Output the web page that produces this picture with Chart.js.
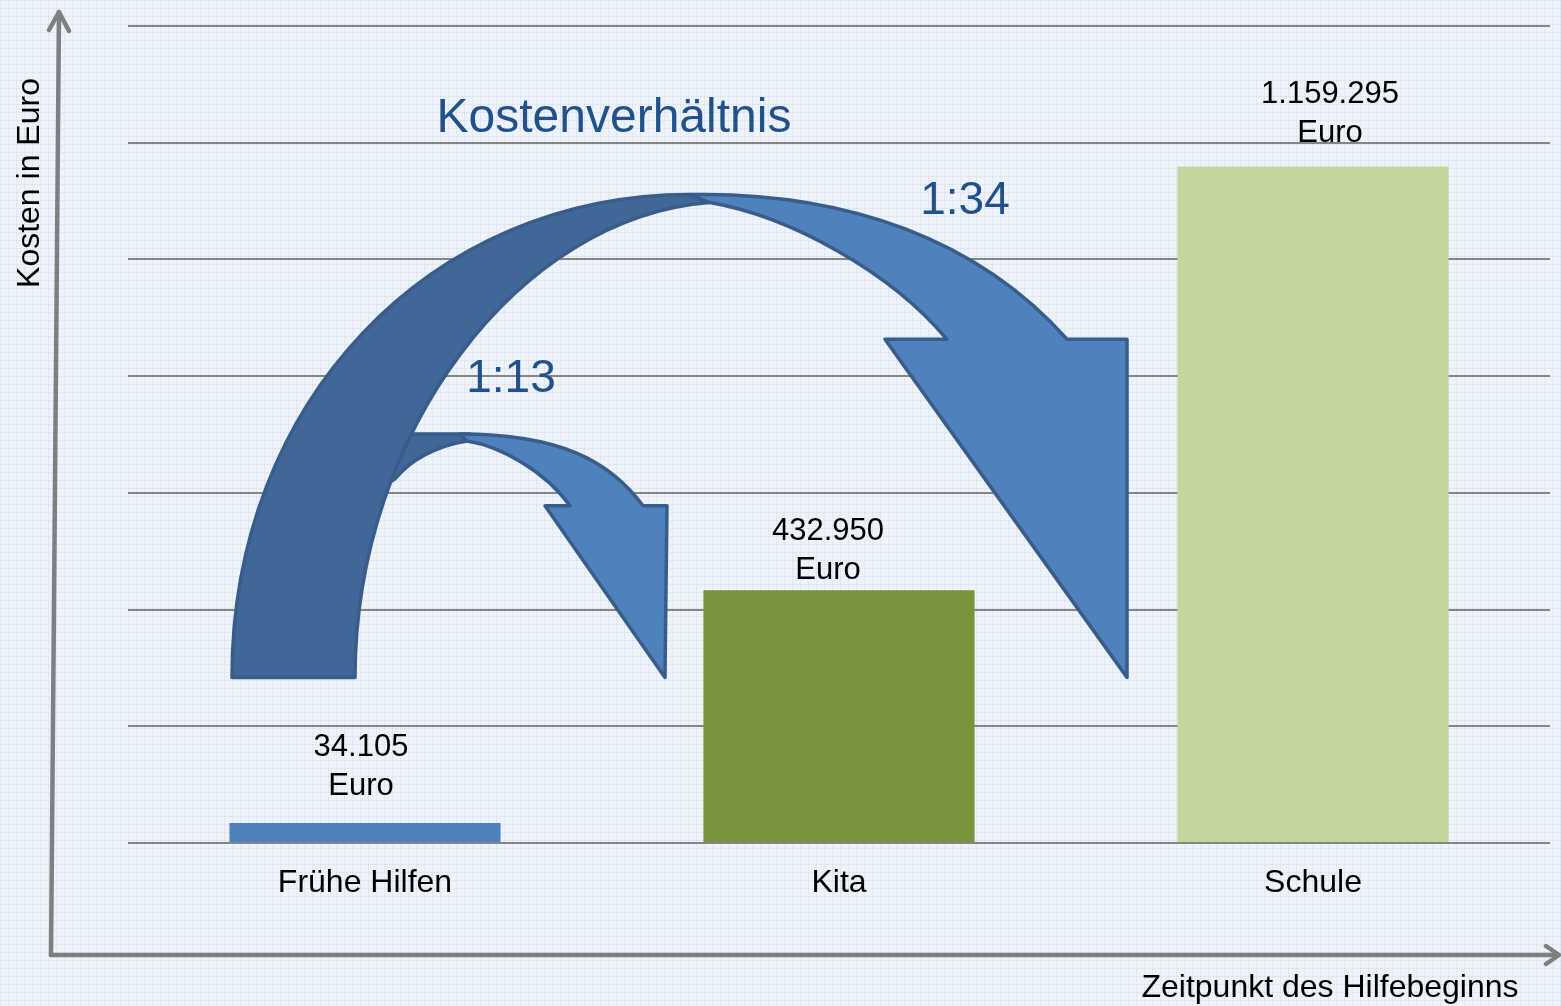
<!DOCTYPE html>
<html>
<head>
<meta charset="utf-8">
<script src="https://cdn.jsdelivr.net/npm/chart.js@4.4.0/dist/chart.umd.min.js"></script>
<style>
  html, body { margin: 0; padding: 0; background: #eef2f9; }
  #wrap { width: 1561px; height: 1006px; position: relative; }
</style>
</head>
<body>
<div id="wrap"><canvas id="c"></canvas></div>
<script>
// ---------- DATA ----------
const categories = ['Frühe Hilfen', 'Kita', 'Schule'];
const costs = [34105, 432950, 1159295];
const valueUnit = 'Euro';
const yTickMin = 0;
const yTickMax = 1400000;
const yTickStep = 200000;
const yAxisTitle = 'Kosten in Euro';
const xAxisTitle = 'Zeitpunkt des Hilfebeginns';
const ratioTitle = 'Kostenverhältnis';
const ratioPairs = [[0, 1], [0, 2]]; // [from category, to category]

// ---------- STYLE ----------
const barColors = ['#4f81bd', '#77933c', '#c3d69b'];
const FONT = '"Liberation Sans", Arial, Helvetica, sans-serif';
const textBlue = '#22508b';
const arrowDark = '#406797';
const arrowLight = '#4f81bd';
const arrowStroke = '#385d8a';
const axisGray = '#7f7f7f';
// value-label placement tweaks (pixels relative to bar top / centre)
const labelDy = [37, 20, 33];
const labelDx = [-4, -11, 17];

function fmtDE(n) {
  return String(n).replace(/\B(?=(\d{3})+(?!\d))/g, '.');
}

// Arrow annotation geometry in data units: [categoryIndex, value in thousands]
const bigArrowBack = [
  ['M', -0.2806, 283.8],
  ['C', -0.2806, 757.3, 0.1371, 1111.1, 0.6857, 1111.1],
  ['L', 0.7278, 1097.4],
  ['C', 0.3270, 1073.5, -0.0211, 706.0, -0.0211, 283.8]
];
const bigArrowFront = [
  ['M', 0.6857, 1111.1],
  ['C', 1.0232, 1116.2, 1.2975, 1030.8, 1.4810, 863.2],
  ['L', 1.6076, 863.2],
  ['L', 1.6076, 283.8],
  ['L', 1.0970, 863.2],
  ['L', 1.2278, 863.2],
  ['C', 1.1076, 979.5, 0.8966, 1073.5, 0.7278, 1097.4]
];
const smallArrowBack = [
  ['M', 0.0105, 700.9],
  ['L', 0.2215, 700.9],
  ['L', 0.2152, 688.9],
  ['C', 0.1477, 680.4, 0.0949, 654.7, 0.0633, 623.9],
  ['L', 0.0105, 594.9]
];
const smallArrowFront = [
  ['M', 0.2004, 700.9],
  ['C', 0.4114, 700.9, 0.5169, 654.7, 0.5865, 577.8],
  ['L', 0.6371, 577.8],
  ['L', 0.6329, 283.8],
  ['L', 0.3797, 577.8],
  ['L', 0.4325, 577.8],
  ['C', 0.3797, 637.6, 0.2848, 680.4, 0.2152, 688.9]
];
// text anchors [categoryIndex, value in thousands]
const ratioTitlePos = [0.5253, 1241.0];
const ratioLabelPos = [[0.3080, 794.9], [1.2658, 1099.1]];

function tracePath(ctx, X, Y, segs) {
  ctx.beginPath();
  segs.forEach(s => {
    if (s[0] === 'M') ctx.moveTo(X(s[1]), Y(s[2]));
    else if (s[0] === 'L') ctx.lineTo(X(s[1]), Y(s[2]));
    else if (s[0] === 'C') ctx.bezierCurveTo(X(s[1]), Y(s[2]), X(s[3]), Y(s[4]), X(s[5]), Y(s[6]));
  });
  ctx.closePath();
}

const deco = {
  id: 'deco',
  beforeDraw(chart) {
    const { ctx, width, height } = chart;
    ctx.save();
    ctx.fillStyle = '#eef2f9';
    ctx.fillRect(0, 0, width, height);
    ctx.strokeStyle = 'rgba(200,212,232,0.35)';
    ctx.lineWidth = 1;
    ctx.beginPath();
    for (let x = 0.5; x < width; x += 8) { ctx.moveTo(x, 0); ctx.lineTo(x, height); }
    for (let y = 0.5; y < height; y += 8) { ctx.moveTo(0, y); ctx.lineTo(width, y); }
    ctx.stroke();
    ctx.restore();
  },
  afterDatasetsDraw(chart) {
    const { ctx } = chart;
    const xs = chart.scales.x, ys = chart.scales.y;
    const X = u => xs.getPixelForValue(u);
    const Y = vk => ys.getPixelForValue(vk * 1000);
    ctx.save();
    ctx.lineJoin = 'round';
    ctx.lineWidth = 3.5;
    ctx.strokeStyle = arrowStroke;
    const shapes = [
      [smallArrowBack, arrowDark],
      [smallArrowFront, arrowLight],
      [bigArrowBack, arrowDark],
      [bigArrowFront, arrowLight]
    ];
    shapes.forEach(([segs, col]) => {
      tracePath(ctx, X, Y, segs);
      ctx.fillStyle = col;
      ctx.fill();
      ctx.stroke();
    });

    // value labels
    const meta = chart.getDatasetMeta(0);
    ctx.fillStyle = '#000';
    ctx.font = '31px ' + FONT;
    ctx.textAlign = 'center';
    ctx.textBaseline = 'middle';
    meta.data.forEach((bar, i) => {
      const cx = bar.x + labelDx[i];
      const y2 = bar.y - labelDy[i];
      ctx.fillText(fmtDE(costs[i]), cx, y2 - 39);
      ctx.fillText(valueUnit, cx, y2);
    });

    // category labels
    ctx.font = '32px ' + FONT;
    categories.forEach((c, i) => {
      ctx.fillText(c, xs.getPixelForValue(i), chart.chartArea.bottom + 40);
    });

    // ratio texts
    ctx.fillStyle = textBlue;
    ctx.font = '48px ' + FONT;
    ctx.fillText(ratioTitle, X(ratioTitlePos[0]), Y(ratioTitlePos[1]));
    ctx.font = '46px ' + FONT;
    ratioPairs.forEach(([a, b], k) => {
      const r = Math.round(costs[b] / costs[a]);
      ctx.fillText('1:' + r, X(ratioLabelPos[k][0]), Y(ratioLabelPos[k][1]));
    });
    ctx.restore();
  },
  afterDraw(chart) {
    const { ctx, chartArea: ca } = chart;
    ctx.save();
    ctx.strokeStyle = axisGray;
    ctx.lineWidth = 4.5;
    ctx.lineCap = 'round';
    ctx.lineJoin = 'round';
    const axX0 = ca.left - 77, axY0 = ca.bottom + 112;
    // y axis with arrow head
    ctx.beginPath();
    ctx.moveTo(axX0, axY0);
    ctx.lineTo(axX0 + 8, ca.top - 14);
    ctx.stroke();
    ctx.beginPath();
    ctx.moveTo(axX0 - 2, ca.top + 4);
    ctx.lineTo(axX0 + 8, ca.top - 14);
    ctx.lineTo(axX0 + 18, ca.top + 5);
    ctx.stroke();
    // x axis with arrow head
    ctx.beginPath();
    ctx.moveTo(axX0, axY0);
    ctx.lineTo(ca.right + 8, axY0);
    ctx.stroke();
    ctx.beginPath();
    ctx.moveTo(ca.right - 4, axY0 - 9);
    ctx.lineTo(ca.right + 9, axY0);
    ctx.lineTo(ca.right - 4, axY0 + 9);
    ctx.stroke();

    // axis titles
    ctx.fillStyle = '#000';
    ctx.font = '32px ' + FONT;
    ctx.textAlign = 'center';
    ctx.textBaseline = 'middle';
    ctx.fillText(xAxisTitle, ca.right - 220, axY0 + 33);
    ctx.save();
    ctx.translate(ca.left - 98, ca.top + 157);
    ctx.rotate(-Math.PI / 2);
    ctx.fillText(yAxisTitle, 0, 0);
    ctx.restore();
    ctx.restore();
  }
};

new Chart(document.getElementById('c'), {
  type: 'bar',
  data: {
    labels: categories,
    datasets: [{
      data: costs,
      backgroundColor: barColors,
      borderWidth: 0,
      categoryPercentage: 1,
      barPercentage: 0.572
    }]
  },
  options: {
    responsive: true,
    maintainAspectRatio: false,
    animation: false,
    layout: { padding: { left: 128, right: 11, top: 26, bottom: 163 } },
    plugins: { legend: { display: false }, tooltip: { enabled: false } },
    scales: {
      x: {
        display: false
      },
      y: {
        min: yTickMin,
        max: yTickMax,
        ticks: { display: false, stepSize: yTickStep },
        border: { display: false },
        grid: { color: '#858585', lineWidth: 2, drawTicks: false }
      }
    }
  },
  plugins: [deco]
});
</script>
</body>
</html>
